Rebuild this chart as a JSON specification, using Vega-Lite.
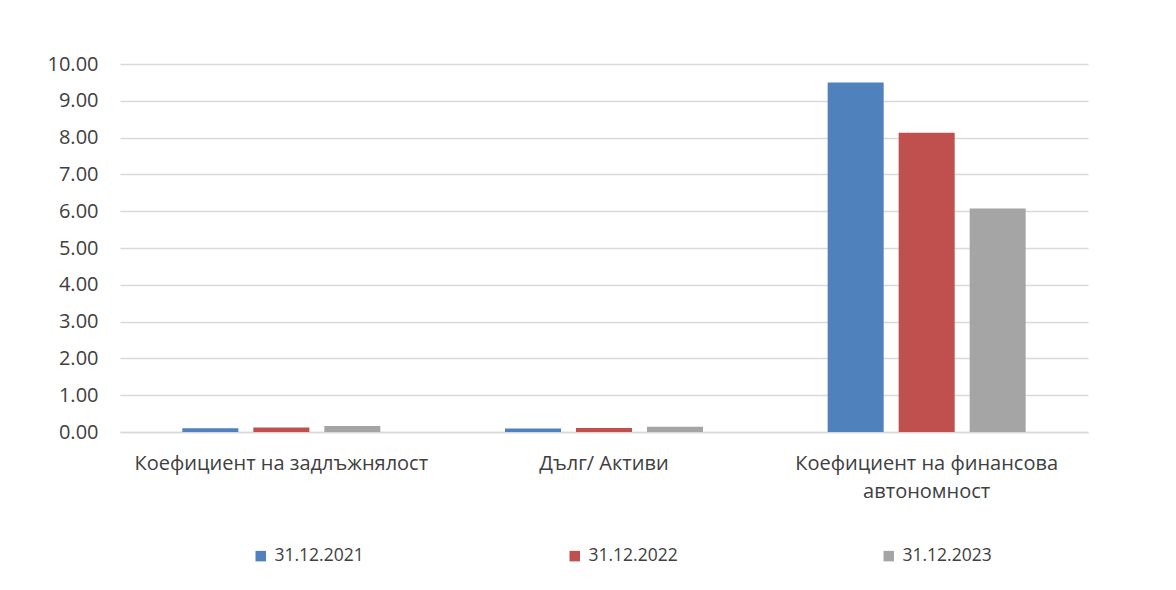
{
  "$schema": "https://vega.github.io/schema/vega-lite/v6.json",
  "autosize": "none",
  "width": 968,
  "height": 368,
  "padding": {"left": 120, "top": 64, "right": 88, "bottom": 158},
  "background": "white",
  "config": {
    "font": "Open Sans",
    "view": {"stroke": null},
    "axis": {"labelFont": "Open Sans", "labelColor": "#404040"},
    "legend": {"labelFont": "Open Sans"}
  },
  "data": {
    "values": [
      {"category": "Коефициент на задлъжнялост", "date": "31.12.2021", "value": 0.105},
      {"category": "Коефициент на задлъжнялост", "date": "31.12.2022", "value": 0.123},
      {"category": "Коефициент на задлъжнялост", "date": "31.12.2023", "value": 0.165},
      {"category": "Дълг/ Активи", "date": "31.12.2021", "value": 0.095},
      {"category": "Дълг/ Активи", "date": "31.12.2022", "value": 0.11},
      {"category": "Дълг/ Активи", "date": "31.12.2023", "value": 0.141},
      {"category": "Коефициент на финансова автономност", "date": "31.12.2021", "value": 9.5},
      {"category": "Коефициент на финансова автономност", "date": "31.12.2022", "value": 8.13},
      {"category": "Коефициент на финансова автономност", "date": "31.12.2023", "value": 6.07}
    ]
  },
  "mark": {"type": "bar"},
  "encoding": {
    "x": {
      "field": "category",
      "type": "nominal",
      "sort": null,
      "scale": {"paddingInner": 0, "paddingOuter": 0},
      "axis": {
        "title": null,
        "labelAngle": 0,
        "labelFontSize": 20,
        "labelPadding": 21,
        "labelLineHeight": 28,
        "ticks": false,
        "domainColor": "#d9d9d9",
        "domainWidth": 1.3,
        "labelLimit": 400,
        "labelExpr": "datum.label == 'Коефициент на финансова автономност' ? ['Коефициент на финансова', 'автономност'] : datum.label"
      }
    },
    "xOffset": {
      "field": "date",
      "type": "nominal",
      "scale": {"paddingInner": 0.211, "paddingOuter": 0.878}
    },
    "y": {
      "field": "value",
      "type": "quantitative",
      "scale": {"domain": [0, 10], "nice": false},
      "axis": {
        "title": null,
        "values": [0, 1, 2, 3, 4, 5, 6, 7, 8, 9, 10],
        "format": ".2f",
        "labelFontSize": 20,
        "labelPadding": 22,
        "ticks": false,
        "domain": false,
        "gridColor": "#d9d9d9",
        "gridWidth": 1.3
      }
    },
    "color": {
      "field": "date",
      "type": "nominal",
      "scale": {"range": ["#4f81bd", "#c0504d", "#a5a5a5"]},
      "legend": {
        "title": null,
        "orient": "none",
        "direction": "horizontal",
        "columns": 3,
        "legendX": 132,
        "legendY": 483,
        "symbolType": "square",
        "symbolSize": 110,
        "symbolStrokeWidth": 0,
        "labelFontSize": 17.5,
        "labelColor": "#404040",
        "labelOffset": 5,
        "columnPadding": 202
      }
    }
  }
}
